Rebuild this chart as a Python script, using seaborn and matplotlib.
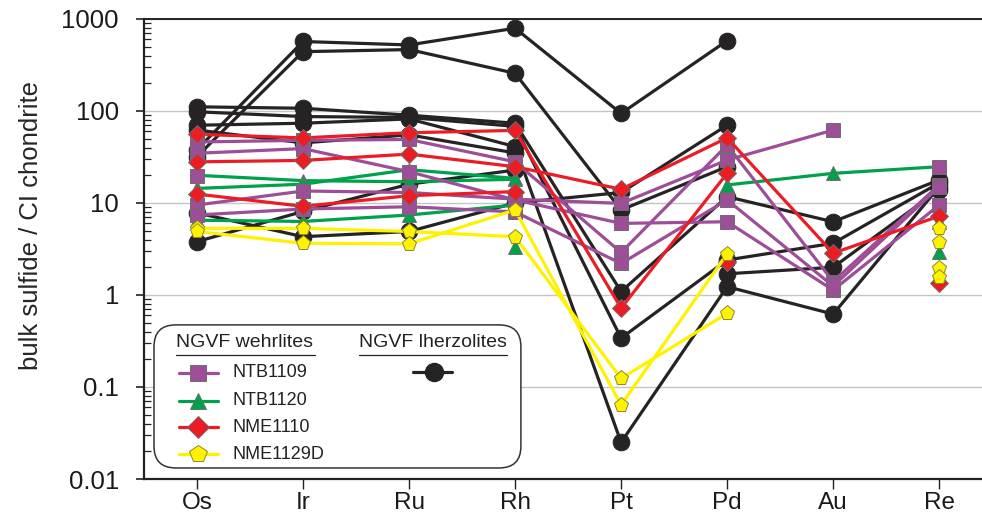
"""
plot.py
Chondrite-normalised HSE patterns of bulk sulfides (NGVF wehrlites vs lherzolites).
"""

import numpy as np
import pandas as pd
import matplotlib
matplotlib.use('Agg')
import matplotlib.pyplot as plt
import seaborn as sns
from matplotlib.patches import FancyBboxPatch
from matplotlib.lines import Line2D
from matplotlib.ticker import FuncFormatter, LogLocator

nan = np.nan

elements = ['Os', 'Ir', 'Ru', 'Rh', 'Pt', 'Pd', 'Au', 'Re']

# NGVF lherzolites (black)
lherzolites = [
    [38, 569, 522, 793, 94, 581, nan, nan],
    [32, 441, 465, 257, 8.4, 24.8, nan, nan],
    [111, 107, 90, 73.6, 1.09, 11.7, 6.25, 17.8],
    [98, 87, 85, 68, 0.34, 2.4, 3.65, 16.5],
    [70, 73.6, 82, 41, 0.025, 1.23, 0.62, 15],
    [62, 45, 55, 35, nan, 1.7, 2.0, 14],
    [3.8, 8.1, 16, 22.8, nan, nan, nan, nan],
    [7.8, 4.3, 4.9, 10, 13, 70, nan, nan],
]

# NGVF wehrlites
ntb1109 = [
    [46, 48, 49, 28, 2.9, 42.5, 1.4, 15.7],
    [34.7, 39, 21.9, 10.8, 6.0, 6.25, 1.13, 9.5],
    [9.5, 13.5, 13, 11, 9.9, 29.3, 62, nan],
    [7.4, 8.6, 9.1, 8.0, 2.2, 10.8, 1.25, 15],
    [19.6, nan, nan, nan, nan, nan, nan, 24.8],
]
ntb1120 = [
    [20, 17.5, 17, 18.1, nan, 15.7, 21, 24.8],
    [14.4, 16, 23, 18.5, nan, nan, nan, 6.25],
    [6.5, 6.3, 7.4, 9.5, nan, nan, nan, 2.96],
    [nan, nan, nan, 3.35, nan, nan, nan, nan],
]
nme1110 = [
    [55.8, 51, 58, 61.5, 0.72, 21, nan, nan],
    [28, 29, 34, 24.8, 14.1, 51, 2.85, 7.2],
    [12.5, 9.2, 12, 13.3, nan, 2.3, nan, 1.35],
]
nme1129d = [
    [5.3, 5.3, 4.9, 4.3, 0.124, 0.63, nan, 5.3],
    [4.9, 3.65, 3.6, 8.4, 0.064, 2.8, nan, 3.8],
    [nan, nan, nan, nan, nan, nan, nan, 1.95],
    [nan, nan, nan, nan, nan, nan, nan, 1.58],
]

wehrlite_names = ['NTB1109', 'NTB1120', 'NME1110', 'NME1129D']


def to_long(rows, name):
    # one unit per unbroken run of values, so gaps are not bridged
    records = []
    for i, row in enumerate(rows):
        seg = 0
        gap = True
        for j, v in enumerate(row):
            if np.isnan(v):
                gap = True
                continue
            if gap:
                seg += 1
                gap = False
            records.append({'pos': j, 'value': v, 'unit': f'{name}-{i}-{seg}'})
    return pd.DataFrame(records)


EDGE = '#6e6e6e'
styles = {
    'lherz':    dict(color='#262324', marker='o', markersize=12, mec='#262324', z=2),
    'NTB1120':  dict(color='#00a14b', marker='^', markersize=10, mec=EDGE, z=3),
    'NTB1109':  dict(color='#9e4d98', marker='s', markersize=9.5, mec=EDGE, z=4),
    'NME1110':  dict(color='#ec1c24', marker='D', markersize=9, mec=EDGE, z=5),
    'NME1129D': dict(color='#fff200', marker='p', markersize=11, mec='#8a8a2a', z=6),
}
groups = [('lherz', lherzolites), ('NTB1120', ntb1120), ('NTB1109', ntb1109),
          ('NME1110', nme1110), ('NME1129D', nme1129d)]

sns.set_theme(style='white')
plt.rcParams['font.family'] = ['Liberation Sans', 'DejaVu Sans']

fig = plt.figure(figsize=(9.82, 5.21), dpi=100)
ax = fig.add_axes([0.1466, 0.0806, 0.853, 0.883])
ax.set_yscale('log')

for name, rows in groups:
    st = styles[name]
    df = to_long(rows, name)
    sns.lineplot(data=df, x='pos', y='value', units='unit', estimator=None,
                 color=st['color'], marker=st['marker'], markersize=st['markersize'],
                 markeredgecolor=st['mec'], markeredgewidth=0.7, linewidth=2.3,
                 legend=False, ax=ax, zorder=st['z'])

ax.set_xlim(-0.5, 7.4)
ax.set_ylim(0.01, 1000)
ax.set_xticks(range(len(elements)))
ax.set_xticklabels(elements)
ax.set_xlabel('')
ax.set_ylabel('bulk sulfide / CI chondrite', fontsize=18.5)
ax.yaxis.set_label_coords(-0.12, 0.55)

ax.yaxis.set_major_locator(LogLocator(base=10, numticks=10))
ax.yaxis.set_minor_locator(LogLocator(base=10, subs=np.arange(2, 10), numticks=10))
ax.yaxis.set_major_formatter(FuncFormatter(lambda v, p: f'{v:g}'))
ax.tick_params(axis='y', which='major', direction='out', length=6, width=1.2,
               labelsize=18.5, pad=12, left=True, colors='#222222')
ax.tick_params(axis='y', which='minor', direction='in', length=5, width=0.9,
               left=True, colors='#222222')
ax.tick_params(axis='x', which='major', direction='out', length=7, width=1.0,
               labelsize=17.5, pad=2, bottom=True, colors='#222222')
ax.tick_params(labelcolor='#1a1a1a')

ax.yaxis.grid(True, which='major', color='#c4c4c4', linewidth=1.0)
ax.xaxis.grid(False)
ax.set_axisbelow(True)

for side in ['left', 'bottom', 'top']:
    ax.spines[side].set_visible(True)
    ax.spines[side].set_color('#222222')
ax.spines['left'].set_linewidth(1.6)
ax.spines['bottom'].set_linewidth(1.6)
ax.spines['top'].set_linewidth(1.4)
ax.spines['right'].set_visible(False)

# hand-built legend box (two underlined headings)
box = FancyBboxPatch((0.012, 0.024), 0.438, 0.311,
                     boxstyle='round,pad=0,rounding_size=0.026',
                     mutation_aspect=838 / 460,
                     transform=ax.transAxes, facecolor='white',
                     edgecolor='#333333', linewidth=1.1, zorder=10)
ax.add_patch(box)

head_y = 0.296
ax.text(0.0388, head_y, 'NGVF wehrlites', transform=ax.transAxes,
        fontsize=14, va='center', ha='left', color='#222222', zorder=11)
ax.text(0.2566, head_y, 'NGVF lherzolites', transform=ax.transAxes,
        fontsize=14, va='center', ha='left', color='#222222', zorder=11)
for x0, x1 in [(0.0388, 0.2040), (0.2566, 0.4330)]:
    ax.add_line(Line2D([x0, x1], [0.270, 0.270], transform=ax.transAxes,
                       color='#222222', linewidth=0.9, zorder=11))

entry_y = [0.2311, 0.1702, 0.1124, 0.0543]
for name, y in zip(wehrlite_names, entry_y):
    st = styles[name]
    ax.add_line(Line2D([0.0418, 0.0883], [y, y], transform=ax.transAxes,
                       color=st['color'], linewidth=2.3, zorder=11))
    ax.add_line(Line2D([0.0650], [y], transform=ax.transAxes, linestyle='none',
                       marker=st['marker'], markersize=st['markersize'] + 2,
                       markerfacecolor=st['color'], markeredgecolor=st['mec'],
                       markeredgewidth=0.7, zorder=12))
    ax.text(0.1058, y, name, transform=ax.transAxes, fontsize=13,
            va='center', ha='left', color='#222222', zorder=11)

st = styles['lherz']
ax.add_line(Line2D([0.321, 0.3675], [0.2332, 0.2332], transform=ax.transAxes,
                   color=st['color'], linewidth=2.3, zorder=11))
ax.add_line(Line2D([0.3461], [0.2332], transform=ax.transAxes, linestyle='none',
                   marker='o', markersize=13, markerfacecolor=st['color'],
                   markeredgecolor=st['color'], zorder=12))

fig.savefig('out.png', dpi=100)
plt.close(fig)
